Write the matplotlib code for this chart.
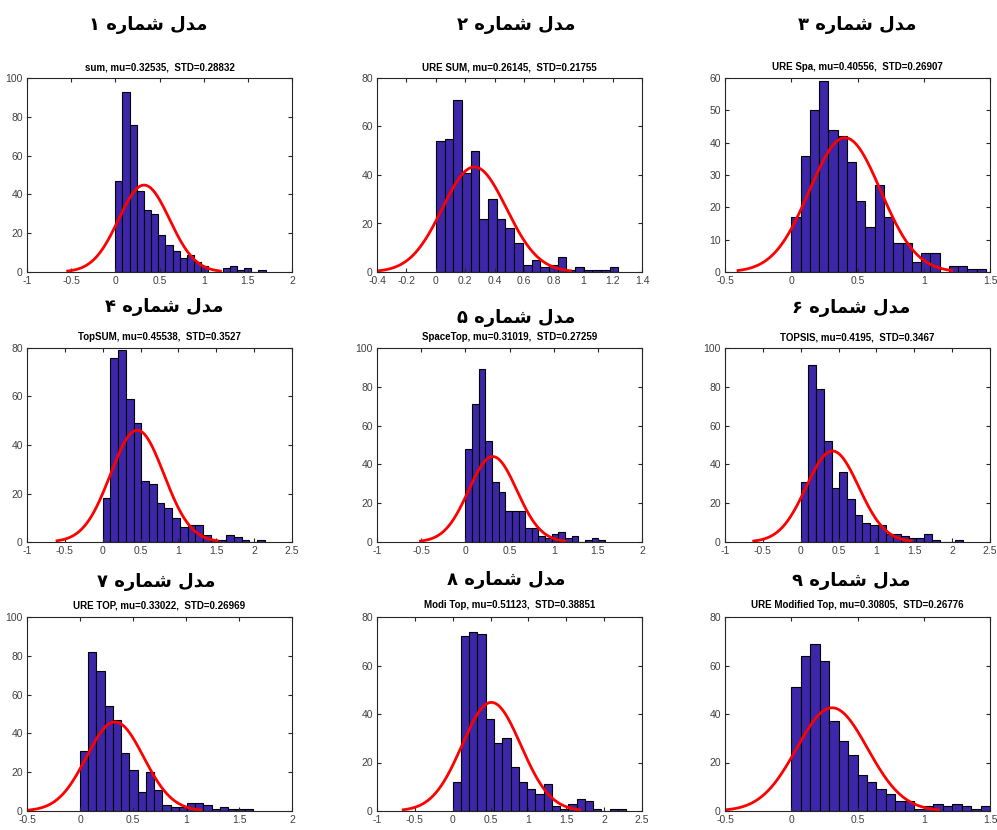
import numpy as np
import matplotlib
matplotlib.use('Agg')
import matplotlib.pyplot as plt

# model labels (Persian) and fitted normal parameters
titles_fa = ['مدل شماره ۱', 'مدل شماره ۲', 'مدل شماره ۳',
             'مدل شماره ۴', 'مدل شماره ۵', 'مدل شماره ۶',
             'مدل شماره ۷', 'مدل شماره ۸', 'مدل شماره ۹']
names = ['sum', 'URE SUM', 'URE Spa', 'TopSUM', 'SpaceTop', 'TOPSIS',
         'URE TOP', 'Modi Top', 'URE Modified Top']
mus = ['0.32535', '0.26145', '0.40556', '0.45538', '0.31019', '0.4195',
       '0.33022', '0.51123', '0.30805']
stds = ['0.28832', '0.21755', '0.26907', '0.3527', '0.27259', '0.3467',
        '0.26969', '0.38851', '0.26776']

# histogram range (min, max of data) and bin counts
data_min = [0.0, 0.0, 0.0, 0.0, 0.0, 0.0, 0.0, 0.0, 0.0]
data_max = [1.70, 1.24, 1.47, 2.14, 1.58, 2.14, 1.63, 2.29, 1.50]
counts = [
    [47, 93, 76, 42, 32, 30, 19, 14, 11, 7, 9, 5, 3, 0, 0, 2, 3, 1, 2, 0, 1],
    [54, 55, 71, 41, 50, 22, 30, 22, 18, 12, 3, 5, 2, 3, 6, 1, 2, 1, 1, 1, 2],
    [17, 36, 50, 59, 44, 42, 34, 22, 14, 27, 17, 9, 9, 3, 6, 6, 0, 2, 2, 1, 1],
    [18, 76, 79, 59, 49, 25, 24, 16, 14, 10, 6, 7, 7, 3, 1, 1, 3, 2, 1, 0, 1],
    [48, 71, 89, 52, 31, 26, 16, 16, 16, 7, 7, 3, 2, 4, 5, 2, 3, 0, 1, 2, 1],
    [31, 91, 79, 52, 28, 36, 22, 14, 10, 9, 9, 4, 4, 3, 2, 2, 4, 1, 0, 0, 1],
    [31, 82, 72, 54, 47, 30, 21, 10, 20, 11, 3, 2, 2, 4, 4, 3, 1, 2, 1, 1, 1],
    [12, 72, 74, 73, 38, 28, 30, 18, 12, 9, 7, 11, 2, 1, 3, 5, 4, 1, 0, 1, 1],
    [51, 64, 69, 62, 37, 29, 23, 15, 12, 9, 7, 4, 4, 1, 2, 3, 2, 3, 2, 1, 2],
]
n_samples = 400

# axis limits / tick steps
xlims = [(-1, 2), (-0.4, 1.4), (-0.5, 1.5), (-1, 2.5), (-1, 2), (-1, 2.5),
         (-0.5, 2), (-1, 2.5), (-0.5, 1.5)]
xsteps = [0.5, 0.2, 0.5, 0.5, 0.5, 0.5, 0.5, 0.5, 0.5]
ylims = [100, 80, 60, 80, 100, 100, 100, 80, 80]
ysteps = [20, 20, 10, 20, 20, 20, 20, 20, 20]

# minimal Persian shaping (matplotlib has no complex text layout)
FORMS = {  # isolated, final, initial, medial
    'م': ('\ufee1', '\ufee2', '\ufee3', '\ufee4'),
    'د': ('\ufea9', '\ufeaa', None, None),
    'ل': ('\ufedd', '\ufede', '\ufedf', '\ufee0'),
    'ش': ('\ufeb5', '\ufeb6', '\ufeb7', '\ufeb8'),
    'ا': ('\ufe8d', '\ufe8e', None, None),
    'ر': ('\ufead', '\ufeae', None, None),
    'ه': ('\ufee9', '\ufeea', '\ufeeb', '\ufeec'),
}


def shape_fa(s):
    out = []
    for i, ch in enumerate(s):
        if ch not in FORMS:
            out.append(ch)
            continue
        f = FORMS[ch]
        prev = s[i - 1] if i > 0 else ''
        nxt = s[i + 1] if i < len(s) - 1 else ''
        pj = prev in FORMS and FORMS[prev][2] is not None
        nj = nxt in FORMS and f[2] is not None
        if pj and nj:
            out.append(f[3])
        elif pj:
            out.append(f[1])
        elif nj:
            out.append(f[2])
        else:
            out.append(f[0])
    return ''.join(out[::-1])


bar_color = '#3d26a8'
axis_color = '#262626'
W, H = 997, 830
col_left = [27, 377, 725]
col_w = 265
row_top = [78, 348, 617]
row_h = 194
# title placement in pixels (centre x, centre y)
fa_xy = [(148, 25), (516, 25), (857, 25),
         (164, 307), (516, 318), (851, 308),
         (156, 582), (506, 580), (851, 581)]
sub_y = [67, 337, 605]

fig = plt.figure(figsize=(W / 100, H / 100), dpi=100)

for k in range(9):
    r, c = divmod(k, 3)
    ax = fig.add_axes([col_left[c] / W, 1 - (row_top[r] + row_h) / H,
                       col_w / W, row_h / H])
    cnt = np.array(counts[k])
    edges = np.linspace(data_min[k], data_max[k], len(cnt) + 1)
    width = edges[1] - edges[0]
    centers = edges[:-1] + width / 2
    ax.bar(centers, cnt, width=width, color=bar_color, edgecolor='black',
           linewidth=0.8)
    mu = float(mus[k])
    sd = float(stds[k])
    xs = np.linspace(mu - 3 * sd, mu + 3 * sd, 200)
    ys = n_samples * width * np.exp(-0.5 * ((xs - mu) / sd) ** 2) / (sd * np.sqrt(2 * np.pi))
    ax.plot(xs, ys, color='red', linewidth=2)

    lo, hi = xlims[k]
    ax.set_xlim(lo, hi)
    ax.set_ylim(0, ylims[k])
    ax.set_xticks(np.round(np.arange(lo, hi + 1e-9, xsteps[k]), 2))
    ax.set_yticks(np.arange(0, ylims[k] + 1, ysteps[k]))
    ax.xaxis.set_major_formatter(plt.FuncFormatter(lambda v, p: ('%g' % v)))
    ax.tick_params(direction='in', top=True, right=True, length=3,
                   labelsize=7.5, colors=axis_color, labelcolor='#404040', pad=3)
    for lab in ax.get_xticklabels() + ax.get_yticklabels():
        lab.set_family('Liberation Sans')
    for sp in ax.spines.values():
        sp.set_color(axis_color)
        sp.set_linewidth(0.8)

    cx = (col_left[c] + col_w / 2) / W
    fig.text(cx, 1 - sub_y[r] / H, f'{names[k]}, mu={mus[k]},  STD={stds[k]}',
             ha='center', va='center', fontsize=7, fontweight='bold',
             family='Liberation Sans')
    fx, fy = fa_xy[k]
    fig.text(fx / W, 1 - fy / H, shape_fa(titles_fa[k]), ha='center',
             va='center', fontsize=13, fontweight='bold', family=['DejaVu Sans'])

fig.savefig('out.png', dpi=100)
